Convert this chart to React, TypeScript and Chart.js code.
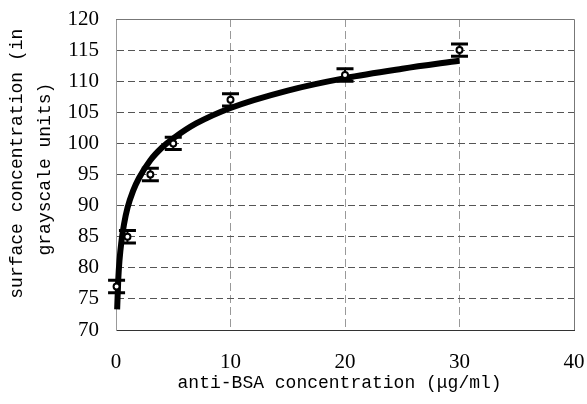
import React, { useEffect, useRef } from 'react';
import { Chart, registerables } from 'chart.js';

Chart.register(...registerables);

// Measured data points (anti-BSA concentration, µg/ml) and surface concentration
const concentrations = [0.05, 1, 3, 5, 10, 20, 30];
const intensities = [77, 85, 95, 100, 107, 111, 115];
const errors = [1, 1, 1, 1, 1, 1, 1];

// Fitted curve
const fitX = [0.1, 0.2, 0.3, 0.5, 0.7, 1, 1.5, 2, 3, 4, 5, 7, 10, 15, 20, 25, 30];
const fitY = [73.3, 78.2, 81.1, 84.6, 87.0, 89.6, 92.4, 94.4, 97.3, 99.3, 100.8, 103.2, 105.7, 108.5, 110.5, 112.0, 113.3];

// Tick labels
const xTicks = [0, 10, 20, 30, 40];
const yTicks = [70, 75, 80, 85, 90, 95, 100, 105, 110, 115, 120];

const xTitle = 'anti-BSA concentration (μg/ml) ';
const yTitle = ['  surface concentration (in', ' grayscale units)'];

const monoFont = "'Liberation Mono', 'DejaVu Sans Mono', monospace";
const serifFont = "'Liberation Serif', 'DejaVu Serif', serif";

const framePlugin = {
  id: 'frame',
  beforeDatasetsDraw(chart: any) {
    const { ctx, chartArea } = chart;
    ctx.save();
    ctx.strokeStyle = '#777777';
    ctx.lineWidth = 1;
    ctx.beginPath();
    ctx.moveTo(chartArea.left, chartArea.top + 0.5);
    ctx.lineTo(chartArea.right + 0.5, chartArea.top + 0.5);
    ctx.lineTo(chartArea.right + 0.5, chartArea.bottom);
    ctx.stroke();
    ctx.restore();
  },
};

const errorBarPlugin = {
  id: 'errorBars',
  afterDatasetDraw(chart: any, args: any) {
    if (args.index !== 0) return;
    const { ctx } = chart;
    const xs = chart.scales.x;
    const ys = chart.scales.y;
    ctx.save();
    ctx.strokeStyle = '#000000';
    concentrations.forEach((c, i) => {
      const px = xs.getPixelForValue(c);
      const top = ys.getPixelForValue(intensities[i] + errors[i]);
      const bot = ys.getPixelForValue(intensities[i] - errors[i]);
      ctx.lineWidth = 2;
      ctx.beginPath();
      ctx.moveTo(px, top);
      ctx.lineTo(px, bot);
      ctx.stroke();
      ctx.lineWidth = 3;
      ctx.beginPath();
      ctx.moveTo(px - 8.5, top);
      ctx.lineTo(px + 8.5, top);
      ctx.moveTo(px - 8.5, bot);
      ctx.lineTo(px + 8.5, bot);
      ctx.stroke();
    });
    ctx.restore();
  },
};

export default function App() {
  const canvasRef = useRef<HTMLCanvasElement | null>(null);

  useEffect(() => {
    if (!canvasRef.current) return;
    const chart = new Chart(canvasRef.current, {
      type: 'scatter',
      data: {
        datasets: [
          {
            label: 'fit',
            data: fitX.map((x, i) => ({ x, y: fitY[i] })),
            showLine: true,
            borderColor: '#000000',
            borderWidth: 6,
            pointRadius: 0,
            cubicInterpolationMode: 'monotone',
            order: 2,
            clip: false,
          } as any,
          {
            label: 'data',
            data: concentrations.map((x, i) => ({ x, y: intensities[i] })),
            showLine: false,
            pointStyle: 'circle',
            pointRadius: 3,
            pointBorderWidth: 2,
            pointBackgroundColor: '#ffffff',
            pointBorderColor: '#000000',
            order: 1,
            clip: false,
          } as any,
        ],
      },
      options: {
        responsive: false,
        animation: false,
        devicePixelRatio: 1,
        layout: { padding: { left: 0, top: 19, right: 13, bottom: 0 } },
        plugins: {
          legend: { display: false },
          tooltip: { enabled: false },
        },
        scales: {
          x: {
            type: 'linear',
            min: 0,
            max: 40,
            afterBuildTicks: (scale: any) => {
              scale.ticks = xTicks.map((v) => ({ value: v }));
            },
            afterFit: (scale: any) => {
              scale.height = 74;
              scale.paddingLeft = 0;
              scale.paddingRight = 0;
            },
            grid: {
              drawTicks: false,
              color: (c: any) =>
                c.tick && (c.tick.value === 0 || c.tick.value === 40) ? 'rgba(0,0,0,0)' : '#999999',
              lineWidth: 1,
            },
            border: { display: true, color: '#333333', width: 1, dash: [8, 4] },
            ticks: {
              padding: 20,
              color: '#000000',
              font: { family: serifFont, size: 21 },
              maxRotation: 0,
            },
            title: {
              display: true,
              text: xTitle,
              color: '#000000',
              font: { family: monoFont, size: 18, lineHeight: 28 / 18 },
              padding: { top: 0, bottom: 7 },
            },
          },
          y: {
            type: 'linear',
            min: 70,
            max: 120,
            afterBuildTicks: (scale: any) => {
              scale.ticks = yTicks.map((v) => ({ value: v }));
            },
            afterFit: (scale: any) => {
              scale.width = 116;
              scale.paddingTop = 0;
              scale.paddingBottom = 0;
            },
            grid: {
              drawTicks: false,
              color: (c: any) =>
                c.tick && (c.tick.value === 70 || c.tick.value === 120) ? 'rgba(0,0,0,0)' : '#555555',
              lineWidth: 1,
            },
            border: { display: true, color: '#999999', width: 1, dash: [7, 4] },
            ticks: {
              padding: 17,
              color: '#000000',
              font: { family: serifFont, size: 21 },
            },
            title: {
              display: true,
              text: yTitle,
              color: '#000000',
              font: { family: monoFont, size: 18, lineHeight: 28 / 18 },
              padding: { top: 3, bottom: 0 },
            },
          },
        },
      },
      plugins: [framePlugin, errorBarPlugin],
    } as any);
    return () => chart.destroy();
  }, []);

  return (
    <div style={{ position: 'fixed', left: 0, top: 0, width: 587, height: 404, background: '#ffffff' }}>
      <canvas ref={canvasRef} width={587} height={404} style={{ display: 'block', width: 587, height: 404 }} />
    </div>
  );
}
